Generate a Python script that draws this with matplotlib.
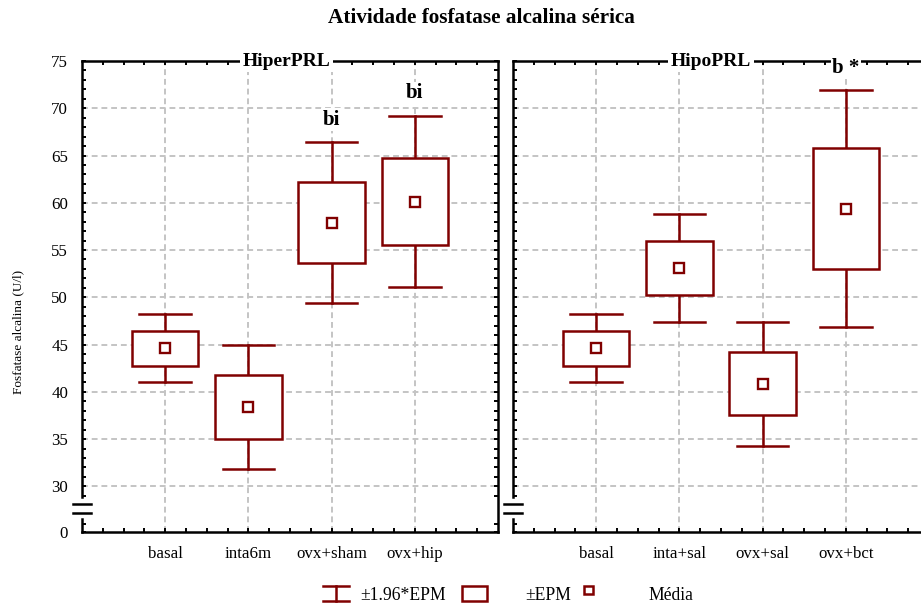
"""
Serum alkaline phosphatase activity, HiperPRL vs HipoPRL groups.
Box = mean +/- EPM, whiskers = mean +/- 1.96*EPM.
"""

import matplotlib
matplotlib.use("Agg")
import matplotlib.pyplot as plt
import matplotlib.transforms as mtransforms
from matplotlib.patches import Rectangle
import numpy as np

# group labels and summary stats (U/l)
hiper_labels = ["basal", "inta6m", "ovx+sham", "ovx+hip"]
hiper_mean = [44.63, 38.39, 57.91, 60.12]
hiper_epm = [1.85, 3.35, 4.33, 4.62]
hiper_marks = {"ovx+sham": "bi", "ovx+hip": "bi"}

hipo_labels = ["basal", "inta+sal", "ovx+sal", "ovx+bct"]
hipo_mean = [44.63, 53.10, 40.85, 59.37]
hipo_epm = [1.85, 2.89, 3.35, 6.385]
hipo_marks = {"ovx+bct": "b *"}

yticks = [30, 35, 40, 45, 50, 55, 60, 65, 70, 75]
Y_BOTTOM = 25.17   # stands in for 0 below the axis break
Y_TOP = 75.0

RED = "#800000"
plt.rcParams["font.family"] = ["Liberation Serif", "DejaVu Serif"]

W, H = 921, 610
fig = plt.figure(figsize=(W / 100, H / 100), dpi=100)


def px_box(x0, x1, y_top, y_bot):
    return [x0 / W, 1 - y_bot / H, (x1 - x0) / W, (y_bot - y_top) / H]


def draw_panel(ax, labels, means, epm, marks, title, title_x, show_ylabels):
    pos = np.arange(1, len(labels) + 1)
    means = np.asarray(means)
    epm = np.asarray(epm)
    ci = 1.96 * epm

    ax.set_xlim(0, 5)
    ax.set_ylim(Y_BOTTOM, Y_TOP)

    # dashed grid
    for y in yticks[:-1]:
        ax.axhline(y, color="#c4c4c4", lw=1.4, ls=(0, (3, 2)), zorder=0)
    for x in pos:
        ax.axvline(x, color="#c4c4c4", lw=1.4, ls=(0, (3, 2)), zorder=0)

    for x, m, e, c in zip(pos, means, epm, ci):
        ax.plot([x, x], [m - c, m + c], color=RED, lw=1.8, zorder=2)
        ax.plot([x - 0.31, x + 0.31], [m + c, m + c], color=RED, lw=1.8, zorder=2)
        ax.plot([x - 0.31, x + 0.31], [m - c, m - c], color=RED, lw=1.8, zorder=2)
        ax.add_patch(Rectangle((x - 0.4, m - e), 0.8, 2 * e, facecolor="white",
                               edgecolor=RED, lw=1.8, zorder=3))
        ax.plot(x, m, marker="s", ms=7, mfc="white", mec=RED, mew=1.7, zorder=4)

    # significance letters above the whiskers
    for lab, txt in marks.items():
        i = labels.index(lab)
        top = means[i] + ci[i]
        y = min(top + 2.4, 74.5)
        ax.text(pos[i], y, txt, ha="center", va="center", fontsize=15,
                fontweight="bold", zorder=6, clip_on=False,
                bbox=dict(facecolor="white", edgecolor="none", pad=1))

    ax.text(title_x, Y_TOP, title, ha="center", va="center", fontsize=14,
            fontweight="bold", zorder=6, clip_on=False,
            bbox=dict(facecolor="white", edgecolor="none", pad=2))

    # ticks
    ax.set_xticks(pos)
    ax.set_xticklabels(labels, fontsize=12.2)
    ax.set_xticks(np.arange(0.25, 5, 0.25), minor=True)
    minor_y = [26, 29] + list(range(30, 76))
    ax.set_yticks(minor_y, minor=True)
    ax.set_yticks([Y_BOTTOM] + yticks)
    if show_ylabels:
        ax.set_yticklabels(["0"] + [str(v) for v in yticks], fontsize=12.2)
    else:
        ax.set_yticklabels([])
    ax.tick_params(which="both", direction="in", top=True, right=True,
                   length=3, width=1.4, color="black")
    ax.tick_params(axis="x", which="major", pad=10)
    ax.tick_params(axis="y", which="major", pad=10)

    for s in ["top", "bottom", "right"]:
        ax.spines[s].set_linewidth(1.8)
    ax.spines["left"].set_visible(False)

    # left spine with an axis break between 0 and 30
    tr = mtransforms.blended_transform_factory(ax.transAxes, ax.transData)
    ax.plot([0, 0], [Y_BOTTOM, 26.5], color="black", lw=1.8, transform=tr,
            clip_on=False, zorder=5)
    ax.plot([0, 0], [28.84, Y_TOP], color="black", lw=1.8, transform=tr,
            clip_on=False, zorder=5)
    for yb in (27.15, 28.1):
        ax.plot([-0.022, 0.022], [yb, yb], color="black", lw=1.8, transform=tr,
                clip_on=False, zorder=5)


ax1 = fig.add_axes(px_box(82, 498, 61, 532))
ax2 = fig.add_axes(px_box(513, 929, 61, 532))

draw_panel(ax1, hiper_labels, hiper_mean, hiper_epm, hiper_marks,
           "HiperPRL", 2.46, True)
draw_panel(ax2, hipo_labels, hipo_mean, hipo_epm, hipo_marks,
           "HipoPRL", 2.38, False)

fig.text(481 / W, 1 - 18 / H, "Atividade fosfatase alcalina sérica",
         ha="center", va="center", fontsize=15.3, fontweight="bold")
fig.text(18 / W, 1 - 332 / H, "Fosfatase alcalina (U/l)", ha="center",
         va="center", rotation=90, fontsize=9.5)

# legend drawn in pixel space along the bottom
lg = fig.add_axes([0, 0, 1, 1])
lg.set_xlim(0, W)
lg.set_ylim(H, 0)
lg.axis("off")
lg.plot([323, 349], [586, 586], color=RED, lw=1.8)
lg.plot([323, 349], [601, 601], color=RED, lw=1.8)
lg.plot([336, 336], [586, 601], color=RED, lw=1.8)
lg.text(360, 595, "±1.96*EPM", ha="left", va="center", fontsize=12.7)
lg.add_patch(Rectangle((462, 586), 25, 15, facecolor="white", edgecolor=RED, lw=1.8))
lg.text(525, 595, "±EPM", ha="left", va="center", fontsize=12.7)
lg.add_patch(Rectangle((584, 586), 8.5, 8, facecolor="white", edgecolor=RED, lw=1.8))
lg.text(648, 595, "Média", ha="left", va="center", fontsize=12.7)

fig.savefig("out.png", dpi=100)
